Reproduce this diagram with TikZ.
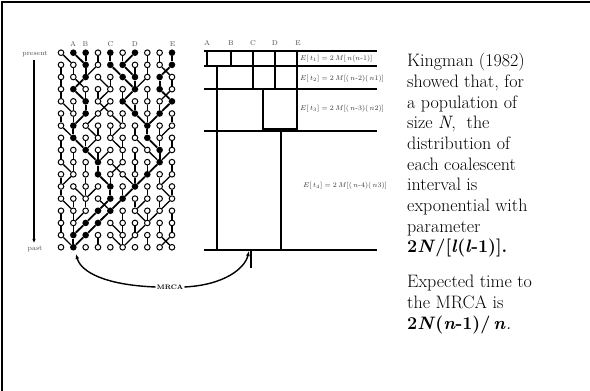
\documentclass[tikz,border=0pt]{standalone}
\usepackage{fontspec}
\usetikzlibrary{arrows.meta,calc}
\begin{document}
\begin{tikzpicture}[x=1pt,y=-1pt,
  oc/.style={circle,draw,fill=white,line width=1pt,minimum size=5.6pt,inner sep=0pt},
  fc/.style={circle,fill=black,minimum size=6.6pt,inner sep=0pt},
  gl/.style={line width=1.3pt},
  al/.style={line width=1.8pt},
  tl/.style={line width=1.8pt},
  lab/.style={font=\fontsize{7}{8}\selectfont,text=black!70,inner sep=0pt},
  eq/.style={font=\fontsize{7}{8}\selectfont,text=black!80,anchor=west,inner sep=0pt},
  body/.style={font=\fontsize{18}{20.7}\selectfont,align=left,anchor=north west,inner sep=0pt},
  arr/.style={line width=1.4pt,-{Latex[length=5pt,width=4pt]}}]

\useasboundingbox (0,0) rectangle (590,391);
\draw[line width=2pt] (2,391) -- (2,2) -- (590,2);

% genealogy data: offset to parent (+10 = ancestral lineage)
\def\gdata{0/{1,11,10,0,10,0,9,0,0,10},
1/{0,0,10,-1,11,11,0,0,1,9},
2/{0,1,9,1,0,11,10,-1,10,0},
3/{0,11,0,0,-1,0,9,0,11,-1},
4/{1,0,10,1,-1,11,0,0,0,9},
5/{0,0,9,-1,1,0,11,0,9,0},
6/{1,10,1,0,0,-1,0,10,0,-1},
7/{0,11,0,-1,1,0,1,11,0,0},
8/{0,0,11,0,-1,0,0,1,10,-1},
9/{1,0,0,10,1,-1,0,0,9,0},
10/{0,-1,0,11,0,1,0,9,0,-1},
11/{0,1,0,-1,10,0,9,0,1,0},
12/{1,0,0,1,9,9,0,-1,0,-1},
13/{0,0,-1,9,9,0,1,0,-1,0},
14/{0,0,9,9,1,0,0,-1,0,0},
15/{1,10,9,0,1,0,-1,0,1,-1}}

% nodes
\foreach \r/\offs in \gdata {
  \foreach \o [count=\i from 0] in \offs {
    \pgfmathtruncatemacro\isanc{(\o>5) ? 1 : 0}
    \ifnum\isanc=1
      \node[fc] (n-\r-\i) at ({61+12.33*\i},{52.7+12.16*\r}) {};
    \else
      \node[oc] (n-\r-\i) at ({61+12.33*\i},{52.7+12.16*\r}) {};
    \fi
  }
}
\foreach \i in {0,...,9} {
  \ifnum\i=1
    \node[fc] (n-16-\i) at ({61+12.33*\i},{52.7+12.16*16}) {};
  \else
    \node[oc] (n-16-\i) at ({61+12.33*\i},{52.7+12.16*16}) {};
  \fi
}
% edges
\foreach \r/\offs in \gdata {
  \foreach \o [count=\i from 0] in \offs {
    \pgfmathtruncatemacro\isanc{(\o>5) ? 1 : 0}
    \pgfmathtruncatemacro\nc{\i+(\o)-10*\isanc}
    \pgfmathtruncatemacro\nr{\r+1}
    \ifnum\isanc=1
      \draw[al] (n-\r-\i) -- (n-\nr-\nc);
    \else
      \draw[gl] (n-\r-\i) -- (n-\nr-\nc);
    \fi
  }
}

% sample labels
\node[lab] (gA) at (73,44) {A};
\node[lab] (gB) at (85.5,44) {B};
\node[lab] (gC) at (110.5,44) {C};
\node[lab] (gD) at (135,44) {D};
\node[lab] (gE) at (172.5,44) {E};

% present / past
\node[lab] (present) at (35,54) {present};
\node[lab] (past) at (35,249) {past};
\draw[line width=1.4pt,-{Latex[length=4pt,width=3.5pt]},shorten <=3pt,shorten >=3pt]
  ([xshift=-1pt]present.south) -- ([xshift=-1pt]past.north);

% tree
\foreach \y in {51,66,89,131,250} \draw[tl] (204,\y) -- (377,\y);
\draw[tl] (207,51) -- (207,66);
\draw[tl] (231,51) -- (231,66);
\draw[tl] (253,51) -- (253,89);
\draw[tl] (275,51) -- (275,89);
\draw[tl] (297,51) -- (297,131);
\draw[tl] (217,66) -- (217,250);
\draw[tl] (263,89) -- (263,131);
\draw[line width=3pt] (263,129.5) -- (297,129.5);
\draw[tl] (281,131) -- (281,250);
\draw[tl] (251,250) -- (251,268);

\node[lab] (tA) at (207,43) {A};
\node[lab] (tB) at (231,43) {B};
\node[lab] (tC) at (253,43) {C};
\node[lab] (tD) at (275,43) {D};
\node[lab] (tE) at (298,43) {E};

\node[eq] (e1) at (300,59) {$E[\,t_1] = 2\,M[\,n(n\mbox{-}1)]$};
\node[eq] (e2) at (300,79) {$E[\,t_2] = 2\,M[(\,n\mbox{-}2)(\,n1)]$};
\node[eq] (e3) at (300,109) {$E[\,t_3] = 2\,M[(\,n\mbox{-}3)(\,n2)]$};
\node[eq] (e4) at (303,186) {$E[\,t_4] = 2\,M[(\,n\mbox{-}4)(\,n3)]$};

% MRCA
\node[font=\bfseries\fontsize{6.5}{7}\selectfont,inner sep=1pt] (mrca) at (170,287) {MRCA};
\coordinate (lt) at (76,254);
\coordinate (rt) at (249,251);
\draw[arr] (mrca.west) .. controls (105,285) and (81,272) .. (lt);
\draw[arr] (mrca.east) .. controls (225,285) and (245,268) .. (rt);

% text
\node[body] (kt) at (407,53) {Kingman (1982)\\showed that, for\\a population of\\size \textit{N}, \ the\\distribution of\\each coalescent\\interval is\\exponential with\\parameter\\\textbf{2\textit{N}/[\textit{l}(\textit{l}-1)].}};
\node[body] (et) at (407,275) {Expected time to\\the MRCA is\\\textbf{2\textit{N}(\textit{n}-1)/\,\textit{n}}\textit{.}};
\end{tikzpicture}
\end{document}
